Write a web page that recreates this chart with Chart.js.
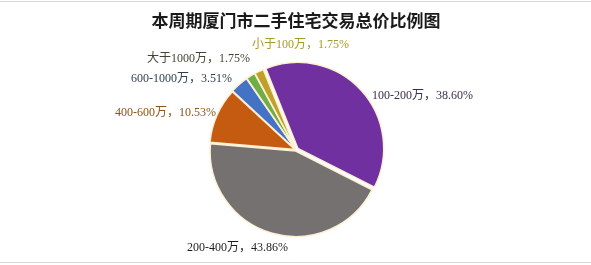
<!DOCTYPE html>
<html>
<head>
<meta charset="utf-8">
<script src="https://cdn.jsdelivr.net/npm/chart.js@4"></script>
<style>
  body { margin: 0; background: #fff; }
  canvas { display: block; }
</style>
</head>
<body>
<canvas id="pieChart" width="591" height="265"></canvas>
<script>
// 数据：本周期厦门市二手住宅交易总价比例
const chartTitle = '本周期厦门市二手住宅交易总价比例图';
const categories = ['100-200万', '200-400万', '400-600万', '600-1000万', '大于1000万', '小于100万'];
const shares = [38.60, 43.86, 10.53, 3.51, 1.75, 1.75];

const sliceColors = ['#7030A0', '#767171', '#C55A11', '#4472C4', '#70AD47', '#BFA02A'];
const labelColors = ['#3c2b4c', '#1e1e1e', '#8a5418', '#2e3f52', '#3e4632', '#a89a24'];

// label placement relative to the pie centre (dx, dy, align)
const labelPlaces = [
    [76, -54, 'left'],
    [-109, 98, 'left'],
    [-80, -37, 'right'],
    [-64, -71, 'right'],
    [-46, -91, 'right'],
    [-44, -105, 'left']
];

const labelFont = "12px 'Liberation Serif', 'Noto Sans CJK SC', serif";

const decorPlugin = {
    id: 'decor',
    beforeDraw(chart) {
        const ctx = chart.ctx;
        ctx.save();
        ctx.fillStyle = '#fff';
        ctx.fillRect(0, 0, chart.width, chart.height);
        ctx.strokeStyle = '#d9d9d9';
        ctx.lineWidth = 1;
        ctx.beginPath();
        ctx.moveTo(0, 1.5); ctx.lineTo(chart.width, 1.5);
        ctx.moveTo(0, 262.5); ctx.lineTo(chart.width, 262.5);
        ctx.stroke();
        // 标题
        ctx.fillStyle = '#1a1a1a';
        ctx.font = "bold 17px 'Noto Sans CJK SC', sans-serif";
        ctx.textAlign = 'center';
        ctx.textBaseline = 'middle';
        ctx.fillText(chartTitle, 296, 21);
        ctx.restore();
    },
    afterDatasetsDraw(chart) {
        const ctx = chart.ctx;
        const arcs = chart.getDatasetMeta(0).data;
        const cx = arcs[0].x, cy = arcs[0].y;
        ctx.save();
        ctx.font = labelFont;
        ctx.textBaseline = 'middle';
        categories.forEach((cat, i) => {
            const p = labelPlaces[i];
            ctx.fillStyle = labelColors[i];
            ctx.textAlign = p[2];
            ctx.fillText(cat + '，' + shares[i].toFixed(2) + '%', cx + p[0], cy + p[1]);
        });
        ctx.restore();
    }
};

const ctx = document.getElementById('pieChart').getContext('2d');
new Chart(ctx, {
    type: 'pie',
    data: {
        labels: categories,
        datasets: [{
            data: shares,
            backgroundColor: sliceColors,
            borderColor: '#fdf0d4',
            borderWidth: 1.5,
            offset: [10, 4, 4, 4, 4, 4]
        }]
    },
    options: {
        responsive: false,
        animation: false,
        rotation: -22,
        radius: 85,
        layout: {
            padding: { left: 100, right: 99, top: 40, bottom: 5 }
        },
        plugins: {
            legend: { display: false },
            tooltip: { enabled: false },
            title: { display: false }
        }
    },
    plugins: [decorPlugin]
});
</script>
</body>
</html>
